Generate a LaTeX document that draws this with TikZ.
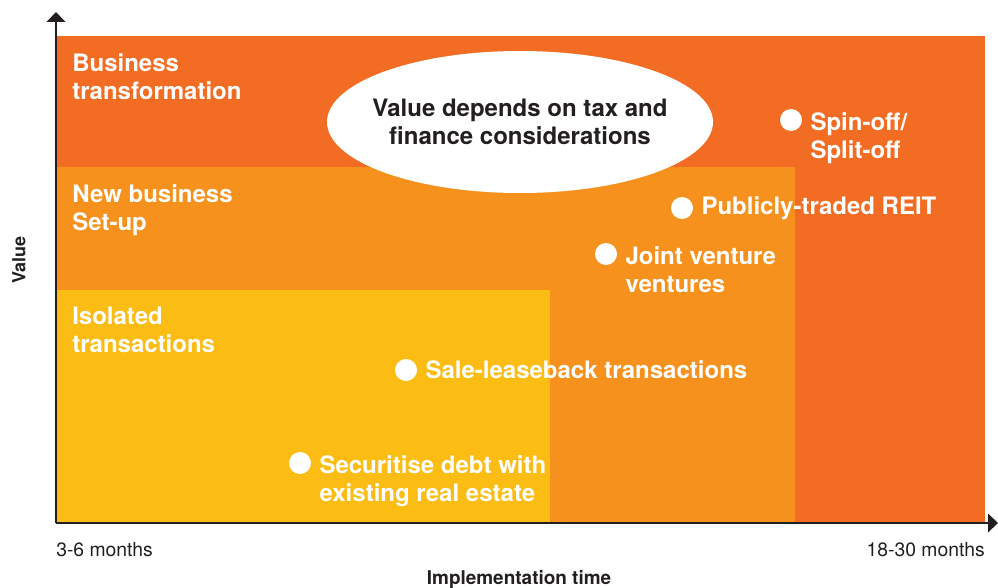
\documentclass[tikz,border=0pt]{standalone}
\usepackage{fontspec}
\setmainfont{TeX Gyre Heros}
\usetikzlibrary{positioning,arrows.meta}
\definecolor{darkorg}{HTML}{F26C23}
\definecolor{midorg}{HTML}{F7911E}
\definecolor{yelorg}{HTML}{FBBC14}
\definecolor{axisgray}{HTML}{231F20}

\begin{document}
\begin{tikzpicture}[
        x=0.75pt,y=-0.75pt,
        lbl/.style={text=white,font=\fontsize{18}{21}\selectfont\bfseries,align=left,inner sep=0pt},
        dot/.style={circle,fill=white,minimum size=16.5pt,inner sep=0pt},
        axlbl/.style={text=axisgray,font=\fontsize{14.5}{17}\selectfont,inner sep=0pt},
        axisline/.style={draw=axisgray,line width=1.1pt,-{Triangle[width=14pt,length=7.5pt]}}
    ]
    \useasboundingbox (0,0) rectangle (998,588);
    
    %zones
    \fill[darkorg] (56,36) rectangle (985,522);
    \fill[midorg] (56,167) rectangle (795,522);
    \fill[yelorg] (56,290) rectangle (550,522);
    
    %zone titles
    \node[lbl,anchor=north west] (bt) at (72,53) {Business\\transformation};
    \node[lbl,anchor=north west] (nb) at (72,184) {New business\\Set-up};
    \node[lbl,anchor=north west] (it) at (72,307) {Isolated\\transactions};
    
    %ellipse
    \coordinate (vc) at (520,122);
    \fill[white] (vc) ellipse [x radius=144.75pt,y radius=53.25pt];
    \node[text=axisgray,font=\fontsize{18}{21.5}\selectfont\bfseries,align=center] (vd) at (vc)
          {Value depends on tax and\\finance considerations};
    
    %options
    \node[dot] (spin) at (791,120) {};
    \node[lbl,anchor=north west] (spintxt) at ([shift={(6pt,6pt)}]spin.east) {Spin-off/\\Split-off};
    \node[dot] (reit) at (682,208) {};
    \node[lbl,anchor=west] (reittxt) at ([xshift=6pt]reit.east) {Publicly-traded REIT};
    \node[dot] (jv) at (606,254) {};
    \node[lbl,anchor=north west] (jvtxt) at ([shift={(6pt,6pt)}]jv.east) {Joint venture\\ventures};
    \node[dot] (slb) at (406,370) {};
    \node[lbl,anchor=west] (slbtxt) at ([xshift=6pt]slb.east) {Sale-leaseback transactions};
    \node[dot] (sec) at (300,463) {};
    \node[lbl,anchor=north west] (sectxt) at ([shift={(6pt,6pt)}]sec.east) {Securitise debt with\\existing real estate};
    
    %axes
    \coordinate (O) at (56,523);
    \coordinate (ytop) at (56,12);
    \coordinate (xend) at (998,523);
    \draw[axisline] (O)--(ytop);
    \draw[axisline] (O)--(xend);
    \node[axlbl,anchor=base west] (t0) at (56,556) {3-6 months};
    \node[axlbl,anchor=base east] (t1) at (985,556) {18-30 months};
    \node[axlbl,font=\fontsize{14.2}{17}\selectfont\bfseries,anchor=base] (xl) at (519,584) {Implementation time};
    \node[axlbl,font=\fontsize{13.5}{16}\selectfont\bfseries,rotate=90] (yl) at (19,260) {Value};
    
\end{tikzpicture}
\end{document}
